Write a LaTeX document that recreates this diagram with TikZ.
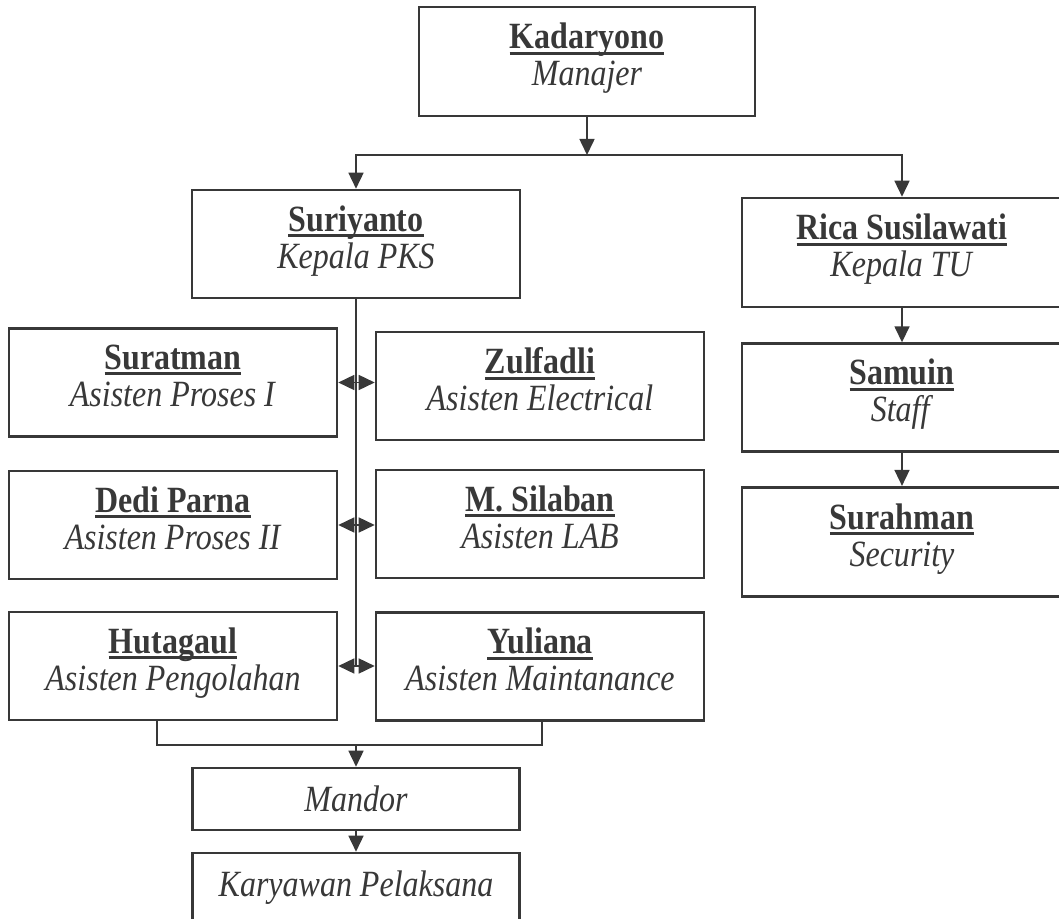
\documentclass[tikz,border=0pt]{standalone}
\usepackage{fontspec}
\setmainfont{Liberation Serif}[FakeStretch=0.865]
\usepackage{tikz}
\usetikzlibrary{positioning,arrows.meta,calc}
\definecolor{inkgray}{HTML}{383838}
\newcommand{\uname}[1]{\setbox0\hbox{\textbf{#1}}\rlap{\rule[-3pt]{\wd0}{1.5pt}}\box0}

\begin{document}
\begin{tikzpicture}[
			x=0.5pt,y=-0.5pt,
			node distance=17pt,
			block/.style={draw=inkgray,line width=1.3pt,fill=white,text=inkgray,align=center,
				minimum width=164pt,minimum height=54pt,inner sep=0pt,
				font=\fontsize{18.5}{18.5}\selectfont},
			person/.style={block,execute at end node={\rule[-7pt]{0pt}{7pt}}},
			link/.style={draw=inkgray,line width=0.8pt},
			arrow/.style={link,-{Triangle[length=8pt,width=7.5pt]}},
			both/.style={link,{Triangle[length=8pt,width=7.5pt]}-{Triangle[length=8pt,width=7.5pt]}}
			]
			\useasboundingbox (0,0) rectangle (1059,919);
			\fill[white] (0,0) rectangle (1059,919);
			
			\node[person,minimum width=168pt,minimum height=54.5pt] (kadaryono) at (587,61.5)
			{\uname{Kadaryono}\\\textit{Manajer}};
			
			\node[person] (suriyanto) at (356,244)
			{\uname{Suriyanto}\\\textit{Kepala PKS}};
			
			\node[person,minimum width=160pt,minimum height=54.5pt] (rica) at (902,252.5)
			{\uname{Rica Susilawati}\\\textit{Kepala TU}};
			
			\node[person,minimum width=160pt,below=of rica] (samuin)
			{\uname{Samuin}\\\textit{Staff}};
			
			\node[person,minimum width=160pt,minimum height=54.5pt,below=16.5pt of samuin] (surahman)
			{\uname{Surahman}\\\textit{Security}};
			
			\node[person] (suratman) at (173,382.5)
			{\uname{Suratman}\\\textit{Asisten Proses I}};
			
			\node[person] (zulfadli) at (540,386)
			{\uname{Zulfadli}\\\textit{Asisten Electrical}};
			
			\node[person] (dedi) at (173,525)
			{\uname{Dedi Parna}\\\textit{Asisten Proses II}};
			
			\node[person] (silaban) at (540,524)
			{\uname{M. Silaban}\\\textit{Asisten LAB}};
			
			\node[person] (hutagaul) at (173,666)
			{\uname{Hutagaul}\\\textit{Asisten Pengolahan}};
			
			\node[person] (yuliana) at (540,666.5)
			{\uname{Yuliana}\\\textit{Asisten Maintanance}};
			
			\node[block,minimum width=163.5pt,minimum height=31pt] (mandor) at (356,799)
			{\textit{Mandor}};
			
			\node[block,minimum width=163.5pt,minimum height=35pt] (karyawan) at (356,888)
			{\textit{Karyawan Pelaksana}};
			
			\coordinate (split) at (587,155);
			\coordinate (join) at (356,745);
			
			\draw[arrow] (kadaryono)--(split);
			\draw[arrow] (split)-|(suriyanto);
			\draw[arrow] (split)-|(rica);
			\draw[arrow] (rica)--(samuin);
			\draw[arrow] (samuin)--(surahman);
			
			\draw[link] (suriyanto.south)--(suriyanto.south |- hutagaul.east);
			\draw[both] (suratman.east)--(suratman.east -| zulfadli.west);
			\draw[both] (dedi.east)--(dedi.east -| silaban.west);
			\draw[both] (hutagaul.east)--(hutagaul.east -| yuliana.west);
			
			\draw[link] ([xshift=-8pt]hutagaul.south) |- (join) -| ([xshift=1pt]yuliana.south);
			\draw[arrow] (join)--(mandor);
			\draw[arrow] (mandor)--(karyawan);
			
		\end{tikzpicture}
\end{document}
